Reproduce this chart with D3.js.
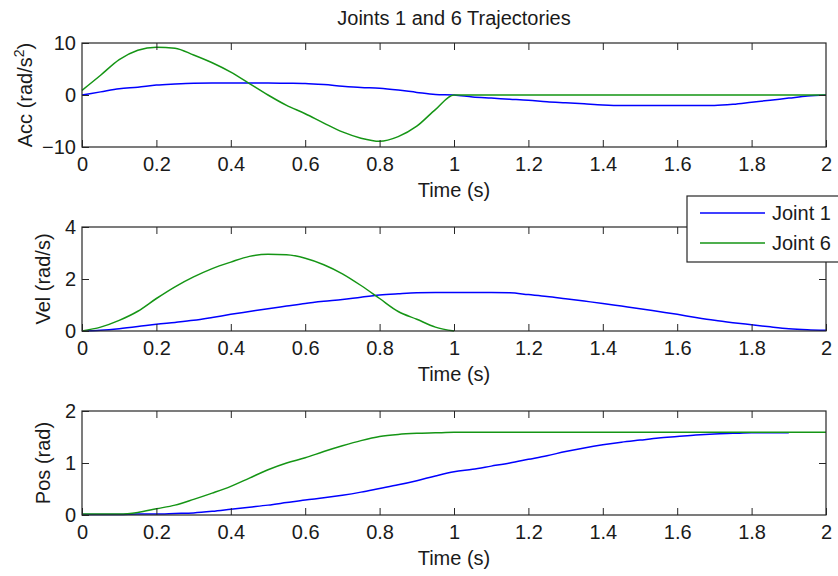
<!DOCTYPE html>
<html>
<head>
<meta charset="utf-8">
<script src="https://cdn.jsdelivr.net/npm/d3@7"></script>
<style>
  html, body { margin: 0; padding: 0; background: #fff; }
  svg { display: block; font-family: "Liberation Sans", Arial, sans-serif; }
</style>
</head>
<body>
<svg id="chart" width="838" height="576"></svg>
<script>
// sample times (s)
const time = d3.range(41).map(i => +(i * 0.05).toFixed(2));
const xTicks = [0, 0.2, 0.4, 0.6, 0.8, 1, 1.2, 1.4, 1.6, 1.8, 2];

const joint1Acc = [0, 0.6, 1.2, 1.5, 1.9, 2.1, 2.25, 2.3, 2.3, 2.3, 2.3, 2.25, 2.2, 2.0, 1.7, 1.45, 1.3, 0.95, 0.5, 0.1,
  0, -0.4, -0.6, -0.8, -1.0, -1.3, -1.5, -1.7, -1.9, -2.0, -2.0, -2.0, -2.0, -2.0, -2.0, -1.8, -1.4, -1.0, -0.6, -0.2, 0];
const joint6Acc = [0.9, 3.8, 6.8, 8.6, 9.2, 9.0, 7.7, 6.2, 4.4, 2.2, 0, -2.0, -3.6, -5.4, -7.1, -8.3, -8.9, -8.0, -6.0, -2.8,
  0, 0, 0, 0, 0, 0, 0, 0, 0, 0, 0, 0, 0, 0, 0, 0, 0, 0, 0, 0, 0];

const joint1Vel = [0, 0.03, 0.09, 0.17, 0.26, 0.33, 0.41, 0.52, 0.64, 0.75, 0.86, 0.96, 1.06, 1.14, 1.21, 1.3, 1.38, 1.43, 1.47, 1.48,
  1.48, 1.48, 1.48, 1.47, 1.4, 1.33, 1.24, 1.15, 1.06, 0.96, 0.86, 0.75, 0.64, 0.52, 0.41, 0.32, 0.24, 0.16, 0.09, 0.05, 0.03];
const joint6Vel = [0, 0.15, 0.41, 0.76, 1.25, 1.7, 2.08, 2.4, 2.65, 2.87, 2.95, 2.93, 2.8, 2.55, 2.2, 1.75, 1.25, 0.75, 0.45, 0.15,
  0, null, null, null, null, null, null, null, null, null, null, null, null, null, null, null, null, null, null, null, null];

const joint1Pos = [0.01, 0.01, 0.01, 0.02, 0.02, 0.03, 0.04, 0.07, 0.11, 0.15, 0.19, 0.24, 0.29, 0.33, 0.38, 0.44, 0.51, 0.58, 0.66, 0.75,
  0.83, 0.88, 0.94, 1.0, 1.07, 1.14, 1.22, 1.29, 1.35, 1.4, 1.44, 1.48, 1.51, 1.54, 1.56, 1.57, 1.58, 1.58, 1.58, null, null];
const joint6Pos = [0.02, 0.02, 0.02, 0.05, 0.12, 0.19, 0.3, 0.42, 0.55, 0.71, 0.87, 1.0, 1.1, 1.22, 1.33, 1.43, 1.51, 1.55, 1.57, 1.58,
  1.59, 1.59, 1.59, 1.59, 1.59, 1.59, 1.59, 1.59, 1.59, 1.59, 1.59, 1.59, 1.59, 1.59, 1.59, 1.59, 1.59, 1.59, 1.59, 1.59, 1.59];

const seriesNames = ['Joint 1', 'Joint 6'];
const colors = ['#0000ff', '#159515'];

const panels = [
  { label: 'Acc (rad/s', sup: '2', domain: [-10, 10], ticks: [-10, 0, 10], data: [joint1Acc, joint6Acc], top: 43, labelX: 32 },
  { label: 'Vel (rad/s)', domain: [0, 4], ticks: [0, 2, 4], data: [joint1Vel, joint6Vel], top: 227, labelX: 50 },
  { label: 'Pos (rad)', domain: [0, 2], ticks: [0, 1, 2], data: [joint1Pos, joint6Pos], top: 411, labelX: 50 }
];

const svg = d3.select('#chart');
const left = 82, right = 826, plotH = 104, tickLen = 7, fontSize = 20;
const axisColor = '#262626', textColor = '#1a1a1a';

const x = d3.scaleLinear([0, 2], [left, right]);

svg.append('text')
  .attr('x', (left + right) / 2).attr('y', 25)
  .attr('text-anchor', 'middle')
  .attr('font-size', fontSize).attr('fill', textColor)
  .text('Joints 1 and 6 Trajectories');

panels.forEach(p => {
  const y = d3.scaleLinear(p.domain, [p.top + plotH, p.top]);
  const g = svg.append('g');

  // curves
  p.data.forEach((vals, i) => {
    const line = d3.line()
      .defined(d => d[1] != null)
      .x(d => x(d[0]))
      .y(d => y(d[1]))
      .curve(d3.curveMonotoneX);
    g.append('path')
      .datum(time.map((t, j) => [t, vals[j]]))
      .attr('fill', 'none')
      .attr('stroke', colors[i])
      .attr('stroke-width', 1.5)
      .attr('d', line);
  });

  // axes: ticks inward on all four sides
  const fmt = d3.format('~g');
  const bottomAx = d3.axisBottom(x).tickValues(xTicks).tickSizeInner(-tickLen).tickSizeOuter(0).tickPadding(10).tickFormat(fmt);
  const topAx = d3.axisTop(x).tickValues(xTicks.slice(1, -1)).tickSizeInner(-tickLen).tickSizeOuter(0).tickFormat('');
  const leftAx = d3.axisLeft(y).tickValues(p.ticks).tickSizeInner(-tickLen).tickSizeOuter(0).tickPadding(6).tickFormat(fmt);
  const rightAx = d3.axisRight(y).tickValues(p.ticks.slice(1, -1)).tickSizeInner(-tickLen).tickSizeOuter(0).tickFormat('');

  [[bottomAx, `translate(0,${p.top + plotH})`], [topAx, `translate(0,${p.top})`],
   [leftAx, `translate(${left},0)`], [rightAx, `translate(${right},0)`]].forEach(([ax, tr]) => {
    const a = g.append('g').attr('transform', tr).call(ax);
    a.select('.domain').remove();
    a.selectAll('line').attr('stroke', axisColor);
    a.selectAll('text').attr('font-size', fontSize).attr('fill', textColor).attr('font-family', null);
  });

  g.append('rect')
    .attr('x', left).attr('y', p.top)
    .attr('width', right - left).attr('height', plotH)
    .attr('fill', 'none').attr('stroke', axisColor).attr('stroke-width', 1.2);

  g.append('text')
    .attr('x', (left + right) / 2).attr('y', p.top + plotH + 50)
    .attr('text-anchor', 'middle').attr('font-size', fontSize).attr('fill', textColor)
    .text('Time (s)');

  const yl = g.append('text')
    .attr('transform', `translate(${p.labelX},${p.top + plotH / 2}) rotate(-90)`)
    .attr('text-anchor', 'middle').attr('font-size', fontSize).attr('fill', textColor)
    .text(p.label);
  if (p.sup) {
    yl.append('tspan').attr('dy', -8).attr('font-size', 14).text(p.sup);
    yl.append('tspan').attr('dy', 8).text(')');
  }
});

// legend
const legend = svg.append('g');
legend.append('rect')
  .attr('x', 687).attr('y', 196).attr('width', 160).attr('height', 66)
  .attr('fill', '#fff').attr('stroke', axisColor).attr('stroke-width', 1.2);
seriesNames.forEach((name, i) => {
  const ly = 213 + i * 30;
  legend.append('line')
    .attr('x1', 700).attr('x2', 765).attr('y1', ly).attr('y2', ly)
    .attr('stroke', colors[i]).attr('stroke-width', 1.5);
  legend.append('text')
    .attr('x', 772).attr('y', ly + 7)
    .attr('font-size', fontSize).attr('fill', textColor)
    .text(name);
});
</script>
</body>
</html>
